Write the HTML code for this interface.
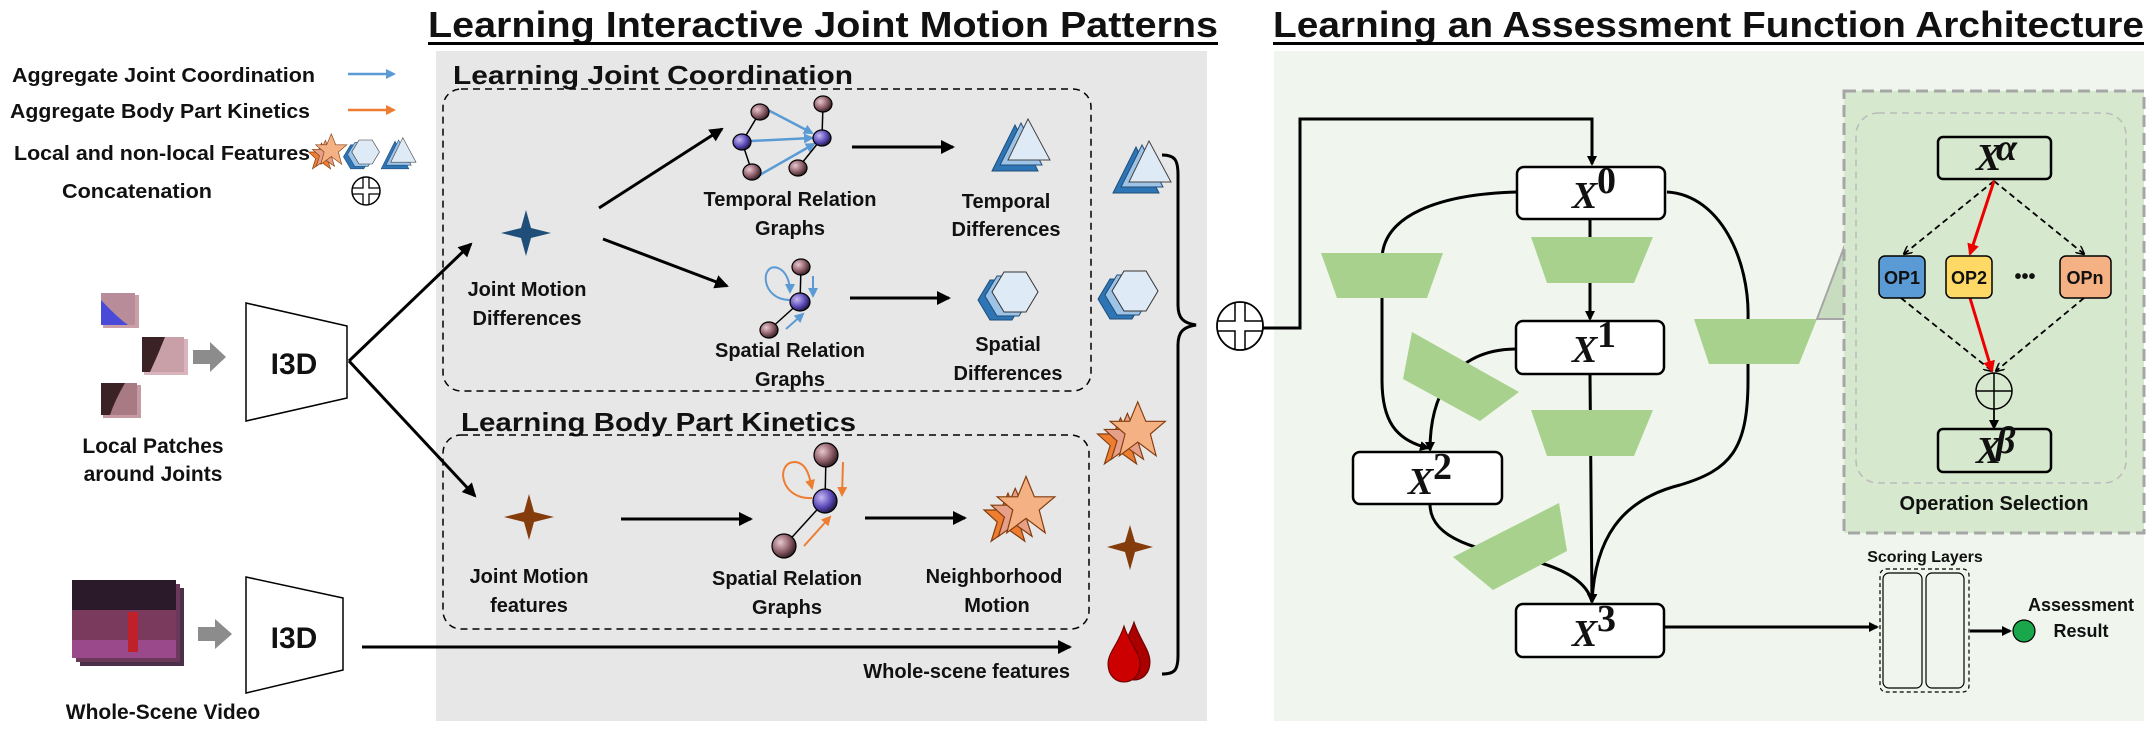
<!DOCTYPE html>
<html><head><meta charset="utf-8"><style>
html,body{margin:0;padding:0;background:#fff}
svg{display:block}
text{font-family:"Liberation Sans",sans-serif;font-weight:bold;fill:#111}
.m{text-anchor:middle}
.x{font-family:"Liberation Serif",serif;font-style:italic;font-weight:bold;font-size:38px}
</style></head><body>
<svg width="2154" height="734" viewBox="0 0 2154 734" xmlns="http://www.w3.org/2000/svg">
<defs>
<marker id="ab" markerWidth="10" markerHeight="10" refX="8" refY="5" orient="auto" markerUnits="userSpaceOnUse"><path d="M0,0 L10,5 L0,10 z" fill="#000"/></marker>
<marker id="ab2" markerWidth="14" markerHeight="14" refX="12" refY="7" orient="auto" markerUnits="userSpaceOnUse"><path d="M0,0 L14,7 L0,14 z" fill="#000"/></marker>
<marker id="abl" markerWidth="10" markerHeight="10" refX="8" refY="5" orient="auto" markerUnits="userSpaceOnUse"><path d="M0,0 L10,5 L0,10 z" fill="#5b9bd5"/></marker>
<marker id="aor" markerWidth="10" markerHeight="10" refX="8" refY="5" orient="auto" markerUnits="userSpaceOnUse"><path d="M0,0 L10,5 L0,10 z" fill="#ed7d31"/></marker>
<marker id="ared" markerWidth="12" markerHeight="12" refX="10" refY="6" orient="auto" markerUnits="userSpaceOnUse"><path d="M0,0 L12,6 L0,12 z" fill="#e00"/></marker>
<marker id="ad" markerWidth="9" markerHeight="9" refX="8" refY="4.5" orient="auto" markerUnits="userSpaceOnUse"><path d="M0,0 L9,4.5 L0,9" fill="none" stroke="#000" stroke-width="1.5"/></marker>
<radialGradient id="nb" cx="0.35" cy="0.35" r="0.7"><stop offset="0" stop-color="#e8c8d0"/><stop offset="0.6" stop-color="#8a5a64"/><stop offset="1" stop-color="#2a1a1e"/></radialGradient>
<radialGradient id="np" cx="0.35" cy="0.35" r="0.7"><stop offset="0" stop-color="#c8b8f0"/><stop offset="0.6" stop-color="#5a4ab8"/><stop offset="1" stop-color="#1a1438"/></radialGradient>
<g id="tri"><polygon points="-18,28 5,-18 28,28" fill="#2e75b6" stroke="#1f4e79"/><polygon points="-10,22 11,-20 32,22" fill="#9dc3e6" stroke="#1f4e79"/><polygon points="-2,17 18,-24 40,17" fill="#deebf7" stroke="#444"/></g>
<g id="hex"><polygon points="-22,0 -10,-20 12,-20 24,0 12,20 -10,20" transform="translate(-14,8)" fill="#2e75b6" stroke="#1f4e79"/><polygon points="-22,0 -10,-20 12,-20 24,0 12,20 -10,20" transform="translate(-7,4)" fill="#9dc3e6" stroke="#1f4e79"/><polygon points="-22,0 -10,-20 12,-20 24,0 12,20 -10,20" fill="#deebf7" stroke="#333"/></g>
<g id="stars"><polygon points="0,-22 6,-8 20,-8 9,2 14,18 0,8 -14,18 -9,2 -20,-8 -6,-8" transform="translate(-10,8)" fill="#ed7d31" stroke="#843c0c"/><polygon points="0,-22 6,-8 20,-8 9,2 14,18 0,8 -14,18 -9,2 -20,-8 -6,-8" transform="translate(-4,4)" fill="#e6a08a" stroke="#843c0c"/><polygon points="0,-26 7,-9 24,-9 11,2 16,21 0,9 -16,21 -11,2 -24,-9 -7,-9" transform="translate(5,-2)" fill="#f4b183" stroke="#843c0c"/></g>
</defs>

<rect x="436" y="51" width="771" height="670" fill="#e7e7e7"/>
<rect x="1274" y="51" width="870" height="670" fill="#f0f6ed"/>

<text x="428" y="37" font-size="36" textLength="790" lengthAdjust="spacingAndGlyphs">Learning Interactive Joint Motion Patterns</text>
<rect x="428" y="42" width="790" height="3" fill="#000"/>
<text x="1273" y="37" font-size="36" textLength="871" lengthAdjust="spacingAndGlyphs">Learning an Assessment Function Architecture</text>
<rect x="1273" y="42" width="871" height="3" fill="#000"/>

<text x="12" y="82" font-size="20" textLength="303" lengthAdjust="spacingAndGlyphs">Aggregate Joint Coordination</text>
<line x1="348" y1="74" x2="394" y2="74" stroke="#5b9bd5" stroke-width="2.5" marker-end="url(#abl)"/>
<text x="10" y="118" font-size="20" textLength="300" lengthAdjust="spacingAndGlyphs">Aggregate Body Part Kinetics</text>
<line x1="348" y1="110" x2="394" y2="110" stroke="#ed7d31" stroke-width="2.5" marker-end="url(#aor)"/>
<text x="14" y="160" font-size="20" textLength="296" lengthAdjust="spacingAndGlyphs">Local and non-local Features</text>
<use href="#stars" transform="translate(328,152) scale(0.65)"/>
<use href="#hex" transform="translate(365,152) scale(0.6)"/>
<use href="#tri" transform="translate(392,152) scale(0.6)"/>
<text x="62" y="198" font-size="20" textLength="150" lengthAdjust="spacingAndGlyphs">Concatenation</text>
<g transform="translate(366,191)"><circle r="14" fill="#fff" stroke="#000" stroke-width="1.5"/><path d="M-3,-14 V-3 H-14 M3,-14 V-3 H14 M-3,14 V3 H-14 M3,14 V3 H14" fill="none" stroke="#000" stroke-width="1.3"/></g>

<rect x="103" y="295" width="36" height="33" fill="#c9a0a8"/><rect x="101" y="293" width="34" height="32" fill="#b88c98"/><path d="M101,300 Q118,318 128,325 L101,325 z" fill="#4a4ad8"/>
<rect x="144" y="339" width="44" height="36" fill="#d8b4bc"/><rect x="142" y="337" width="42" height="35" fill="#caa0a8"/><path d="M142,337 L165,337 Q158,355 150,372 L142,372z" fill="#3a2226"/>
<rect x="103" y="385" width="38" height="33" fill="#c69aa2"/><rect x="101" y="383" width="36" height="32" fill="#a87a84"/><path d="M101,383 L125,383 Q115,400 110,415 L101,415z" fill="#3a2226"/>
<polygon points="193,350 210,350 210,342 226,357 210,372 210,364 193,364" fill="#8c8c8c"/>
<text x="153" y="453" class="m" font-size="21">Local Patches</text>
<text x="153" y="481" class="m" font-size="21">around Joints</text>
<rect x="80" y="588" width="104" height="78" fill="#4a3048"/><rect x="76" y="584" width="104" height="78" fill="#6a3858"/><rect x="72" y="580" width="104" height="78" fill="#7a3a5e"/><rect x="72" y="580" width="104" height="30" fill="#2a1a2a"/><rect x="72" y="640" width="104" height="18" fill="#9a4a8a"/><rect x="128" y="612" width="10" height="40" fill="#c0202a"/>
<polygon points="198,627 215,627 215,619 232,634 215,649 215,641 198,641" fill="#8c8c8c"/>
<text x="163" y="719" class="m" font-size="21">Whole-Scene Video</text>
<polygon points="246,303 347,326 347,398 246,421" fill="#fff" stroke="#000" stroke-width="1.5"/>
<text x="294" y="374" class="m" font-size="30">I3D</text>
<polygon points="246,577 343,598 343,670 246,693" fill="#fff" stroke="#000" stroke-width="1.5"/>
<text x="294" y="648" class="m" font-size="30">I3D</text>
<line x1="349" y1="361" x2="471" y2="244" stroke="#000" stroke-width="3" marker-end="url(#ab2)"/>
<line x1="349" y1="361" x2="475" y2="496" stroke="#000" stroke-width="3" marker-end="url(#ab2)"/>
<line x1="362" y1="647" x2="1070" y2="647" stroke="#000" stroke-width="3" marker-end="url(#ab2)"/>
<text x="1070" y="678" font-size="20" text-anchor="end">Whole-scene features</text>

<text x="453" y="84" font-size="26" textLength="400" lengthAdjust="spacingAndGlyphs">Learning Joint Coordination</text>
<rect x="443" y="89" width="648" height="302" rx="18" fill="none" stroke="#000" stroke-width="1.5" stroke-dasharray="7,5"/>
<polygon points="526,210 531,228 551,233 531,238 526,256 521,238 501,233 521,228" fill="#1f4e79"/>
<text x="527" y="296" class="m" font-size="20">Joint Motion</text>
<text x="527" y="325" class="m" font-size="20">Differences</text>
<line x1="599" y1="208" x2="722" y2="129" stroke="#000" stroke-width="3" marker-end="url(#ab2)"/>
<line x1="603" y1="239" x2="727" y2="286" stroke="#000" stroke-width="3" marker-end="url(#ab2)"/>
<g stroke="#000" stroke-width="1.5"><line x1="760" y1="112" x2="742" y2="142"/><line x1="742" y1="142" x2="752" y2="172"/><line x1="823" y1="104" x2="822" y2="138"/><line x1="822" y1="138" x2="798" y2="168"/></g>
<g stroke="#5b9bd5" stroke-width="2.5"><line x1="768" y1="110" x2="812" y2="133" marker-end="url(#abl)"/><line x1="751" y1="141" x2="812" y2="138" marker-end="url(#abl)"/><line x1="758" y1="176" x2="814" y2="144" marker-end="url(#abl)"/></g>
<g stroke="#000" stroke-width="1.2"><ellipse cx="760" cy="112" rx="9" ry="8" fill="url(#nb)"/><ellipse cx="823" cy="104" rx="9" ry="8" fill="url(#nb)"/><ellipse cx="742" cy="142" rx="9" ry="8" fill="url(#np)"/><ellipse cx="822" cy="138" rx="9" ry="8" fill="url(#np)"/><ellipse cx="752" cy="172" rx="9" ry="8" fill="url(#nb)"/><ellipse cx="798" cy="168" rx="9" ry="8" fill="url(#nb)"/></g>
<text x="790" y="206" class="m" font-size="20">Temporal Relation</text>
<text x="790" y="235" class="m" font-size="20">Graphs</text>
<line x1="852" y1="147" x2="953" y2="147" stroke="#000" stroke-width="3" marker-end="url(#ab2)"/>
<use href="#tri" transform="translate(1010,143)"/>
<text x="1006" y="208" class="m" font-size="20">Temporal</text>
<text x="1006" y="236" class="m" font-size="20">Differences</text>
<g stroke="#000" stroke-width="1.5"><line x1="801" y1="267" x2="800" y2="302"/><line x1="800" y1="302" x2="769" y2="330"/></g>
<path d="M790,300 C760,300 760,262 778,268 C788,272 790,285 790,292" fill="none" stroke="#5b9bd5" stroke-width="2" marker-end="url(#abl)"/>
<line x1="813" y1="276" x2="813" y2="296" stroke="#5b9bd5" stroke-width="2" marker-end="url(#abl)"/>
<line x1="786" y1="329" x2="803" y2="314" stroke="#5b9bd5" stroke-width="2" marker-end="url(#abl)"/>
<g stroke="#000" stroke-width="1.2"><ellipse cx="801" cy="267" rx="9" ry="8" fill="url(#nb)"/><ellipse cx="800" cy="302" rx="10" ry="9" fill="url(#np)"/><ellipse cx="769" cy="330" rx="9" ry="8" fill="url(#nb)"/></g>
<text x="790" y="357" class="m" font-size="20">Spatial Relation</text>
<text x="790" y="386" class="m" font-size="20">Graphs</text>
<line x1="850" y1="298" x2="949" y2="298" stroke="#000" stroke-width="3" marker-end="url(#ab2)"/>
<use href="#hex" transform="translate(1014,292)"/>
<text x="1008" y="351" class="m" font-size="20">Spatial</text>
<text x="1008" y="380" class="m" font-size="20">Differences</text>

<text x="461" y="431" font-size="26" textLength="395" lengthAdjust="spacingAndGlyphs">Learning Body Part Kinetics</text>
<rect x="443" y="435" width="646" height="194" rx="18" fill="none" stroke="#000" stroke-width="1.5" stroke-dasharray="7,5"/>
<polygon points="529,494 534,512 554,517 534,522 529,540 524,522 504,517 524,512" fill="#843c0c"/>
<text x="529" y="583" class="m" font-size="20">Joint Motion</text>
<text x="529" y="612" class="m" font-size="20">features</text>
<line x1="621" y1="519" x2="751" y2="519" stroke="#000" stroke-width="3" marker-end="url(#ab2)"/>
<g stroke="#000" stroke-width="1.5"><line x1="826" y1="455" x2="825" y2="501"/><line x1="825" y1="501" x2="784" y2="546"/></g>
<path d="M812,498 C780,500 775,462 795,462 C808,463 810,480 812,488" fill="none" stroke="#ed7d31" stroke-width="2" marker-end="url(#aor)"/>
<line x1="843" y1="462" x2="842" y2="495" stroke="#ed7d31" stroke-width="2" marker-end="url(#aor)"/>
<line x1="804" y1="546" x2="830" y2="517" stroke="#ed7d31" stroke-width="2" marker-end="url(#aor)"/>
<g stroke="#000" stroke-width="1.2"><ellipse cx="826" cy="455" rx="12" ry="12" fill="url(#nb)"/><ellipse cx="825" cy="501" rx="12" ry="12" fill="url(#np)"/><ellipse cx="784" cy="546" rx="12" ry="12" fill="url(#nb)"/></g>
<text x="787" y="585" class="m" font-size="20">Spatial Relation</text>
<text x="787" y="614" class="m" font-size="20">Graphs</text>
<line x1="865" y1="518" x2="965" y2="518" stroke="#000" stroke-width="3" marker-end="url(#ab2)"/>
<use href="#stars" transform="translate(1020,510) scale(1.2)"/>
<text x="994" y="583" class="m" font-size="20">Neighborhood</text>
<text x="997" y="612" class="m" font-size="20">Motion</text>

<use href="#tri" transform="translate(1131,165)"/>
<use href="#hex" transform="translate(1134,291)"/>
<use href="#stars" transform="translate(1132,434) scale(1.15)"/>
<polygon points="1130,525 1135,542 1153,547 1135,552 1130,570 1125,552 1107,547 1125,542" fill="#843c0c"/>
<path d="M1134,622 C1140,640 1150,650 1150,662 C1150,674 1142,680 1134,680 C1126,680 1118,674 1118,662 C1118,650 1128,640 1134,622z" fill="#a00" stroke="#600"/>
<path d="M1124,626 C1130,645 1140,652 1140,664 C1140,676 1132,682 1124,682 C1116,682 1108,676 1108,664 C1108,652 1118,645 1124,626z" fill="#c00" stroke="#600"/>
<path d="M1162,155 C1175,155 1178,160 1178,175 L1178,305 C1178,318 1183,323 1196,325 C1183,327 1178,332 1178,345 L1178,655 C1178,670 1175,674 1162,674" fill="none" stroke="#000" stroke-width="3"/>

<g transform="translate(1240,326)"><ellipse rx="23" ry="24" fill="#fff" stroke="#000" stroke-width="1.8"/><path d="M-5,-24 V-5 H-23 M5,-24 V-5 H23 M-5,24 V5 H-23 M5,24 V5 H23" fill="none" stroke="#000" stroke-width="1.5"/></g>
<polyline points="1263,328 1300,328 1300,119 1592,119 1592,164" fill="none" stroke="#000" stroke-width="3" marker-end="url(#ab)"/>

<g fill="none" stroke="#000" stroke-width="3">
<line x1="1590" y1="219" x2="1590" y2="319" marker-end="url(#ab)"/>
<line x1="1590" y1="374" x2="1592" y2="602" marker-end="url(#ab)"/>
<path d="M1517,192 C1440,194 1382,215 1382,260 L1382,380 C1382,420 1395,440 1428,448" marker-end="url(#ab)"/>
<path d="M1515,349 C1450,350 1430,400 1430,450" marker-end="url(#ab)"/>
<path d="M1667,192 C1720,195 1750,260 1748,320 L1748,380 C1748,450 1730,470 1680,485 C1620,500 1595,540 1592,602" marker-end="url(#ab)"/>
<path d="M1430,504 C1430,540 1480,550 1530,560 C1570,570 1588,585 1592,602"/>
</g>
<g fill="#a9d18e">
<polygon points="1321,253 1443,253 1427,298 1337,298"/>
<polygon points="1531,237 1653,237 1634,283 1547,283"/>
<polygon points="1531,410 1653,410 1634,456 1547,456"/>
<polygon points="1694,319 1817,319 1799,364 1709,364"/>
<polygon points="1412,332 1519,392 1480,421 1403,379"/>
<polygon points="1453,557 1559,503 1567,551 1493,590"/>
</g>
<g fill="#fff" stroke="#000" stroke-width="2.5">
<rect x="1517" y="167" width="148" height="52" rx="7"/>
<rect x="1516" y="321" width="148" height="53" rx="7"/>
<rect x="1353" y="452" width="149" height="52" rx="7"/>
<rect x="1516" y="604" width="148" height="53" rx="7"/>
</g>
<text x="1572" y="208" class="x">X</text><text x="1597" y="193" class="x" font-size="26" style="font-style:normal">0</text>
<text x="1572" y="362" class="x">X</text><text x="1597" y="347" class="x" font-size="26" style="font-style:normal">1</text>
<text x="1408" y="494" class="x">X</text><text x="1433" y="479" class="x" font-size="26" style="font-style:normal">2</text>
<text x="1572" y="646" class="x">X</text><text x="1597" y="631" class="x" font-size="26" style="font-style:normal">3</text>

<polygon points="1817,319 1846,242 1846,319" fill="#c8dcc0" stroke="#a6a6a6" stroke-width="2"/>
<rect x="1844" y="91" width="300" height="442" fill="#d6e8cd" stroke="#a6a6a6" stroke-width="3" stroke-dasharray="12,6"/>
<rect x="1856" y="113" width="270" height="370" rx="22" fill="none" stroke="#bbb" stroke-width="1.5" stroke-dasharray="7,5"/>
<g stroke="#000" stroke-width="1.8" stroke-dasharray="6,4" fill="none">
<line x1="1994" y1="181" x2="1904" y2="254" marker-end="url(#ad)"/>
<line x1="1994" y1="181" x2="2084" y2="254" marker-end="url(#ad)"/>
<line x1="1901" y1="298" x2="1992" y2="371" marker-end="url(#ad)"/>
<line x1="2084" y1="298" x2="1996" y2="371" marker-end="url(#ad)"/>
</g>
<line x1="1994" y1="181" x2="1970" y2="254" stroke="#e00" stroke-width="3" marker-end="url(#ared)"/>
<line x1="1970" y1="298" x2="1992" y2="371" stroke="#e00" stroke-width="3" marker-end="url(#ared)"/>
<rect x="1938" y="137" width="113" height="42" rx="5" fill="#d6e8cd" stroke="#000" stroke-width="2.5"/>
<text x="1976" y="170" class="x" font-size="28">X</text><text x="1996" y="160" class="x" font-size="18">α</text>
<rect x="1879" y="256" width="46" height="42" rx="6" fill="#5b9bd5" stroke="#000" stroke-width="1.5"/>
<text x="1902" y="284" class="m" font-size="18">OP1</text>
<rect x="1946" y="256" width="46" height="42" rx="6" fill="#ffd966" stroke="#000" stroke-width="1.5"/>
<text x="1969" y="284" class="m" font-size="18">OP2</text>
<text x="2025" y="283" class="m" font-size="20">•••</text>
<rect x="2060" y="256" width="51" height="42" rx="6" fill="#f4b183" stroke="#000" stroke-width="1.5"/>
<text x="2085" y="284" class="m" font-size="18">OPn</text>
<g transform="translate(1994,391)"><circle r="18" fill="none" stroke="#000" stroke-width="1.5"/><path d="M-18,0 H18 M0,-18 V18" stroke="#000" stroke-width="1.5"/></g>
<line x1="1994" y1="409" x2="1994" y2="428" stroke="#000" stroke-width="1.8" marker-end="url(#ab)"/>
<rect x="1938" y="429" width="113" height="43" rx="5" fill="#d6e8cd" stroke="#000" stroke-width="2.5"/>
<text x="1976" y="463" class="x" font-size="28">X</text><text x="1996" y="453" class="x" font-size="18">β</text>
<text x="1994" y="510" class="m" font-size="20">Operation Selection</text>

<line x1="1665" y1="627" x2="1877" y2="627" stroke="#000" stroke-width="3" marker-end="url(#ab)"/>
<text x="1925" y="562" class="m" font-size="16">Scoring Layers</text>
<rect x="1880" y="569" width="89" height="123" rx="6" fill="none" stroke="#000" stroke-width="1.2" stroke-dasharray="4,3"/>
<rect x="1883" y="573" width="39" height="115" rx="6" fill="#f0f6ed" stroke="#000" stroke-width="1.2"/>
<rect x="1926" y="573" width="38" height="115" rx="6" fill="#f0f6ed" stroke="#000" stroke-width="1.2"/>
<line x1="1970" y1="631" x2="2010" y2="631" stroke="#000" stroke-width="3" marker-end="url(#ab)"/>
<circle cx="2024" cy="631" r="11" fill="#1aa64a" stroke="#000" stroke-width="1.2"/>
<text x="2081" y="611" class="m" font-size="18">Assessment</text>
<text x="2081" y="637" class="m" font-size="18">Result</text>
</svg>
</body></html>
